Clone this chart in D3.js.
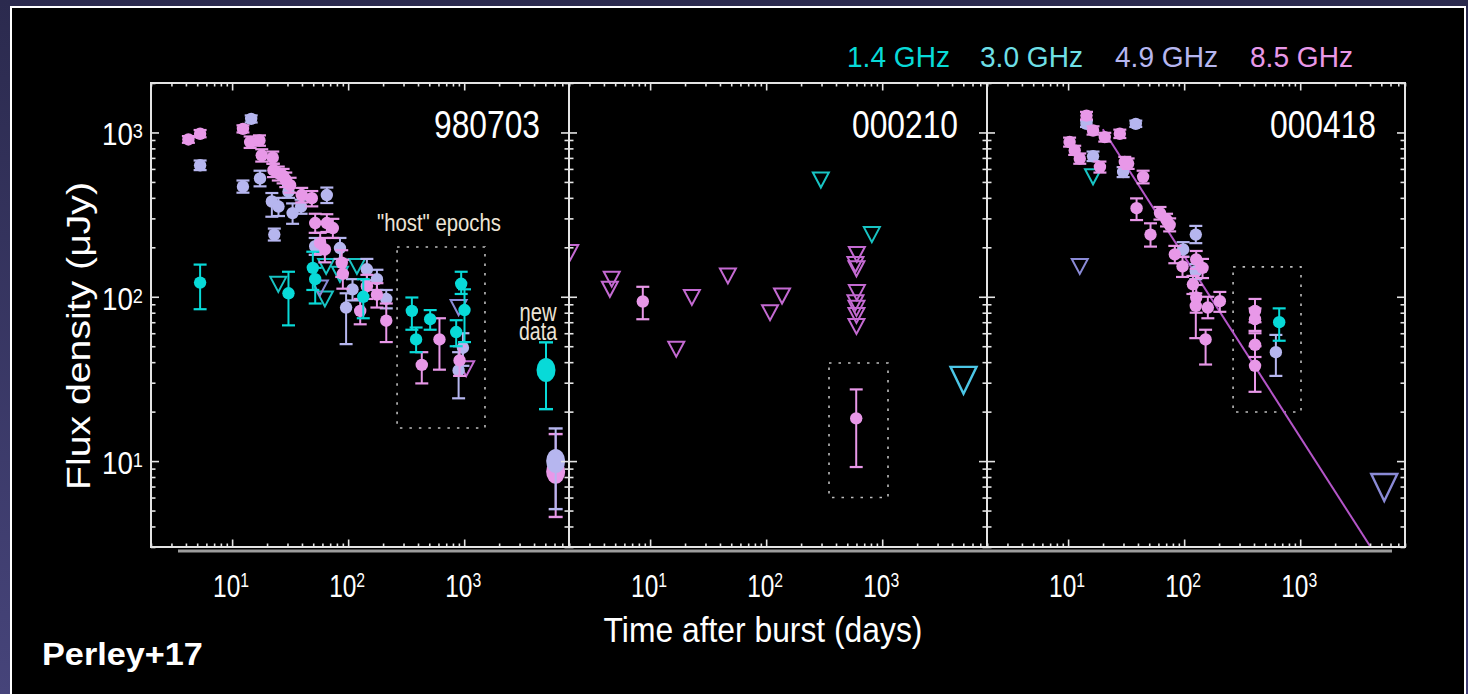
<!DOCTYPE html>
<html>
<head>
<meta charset="utf-8">
<script src="https://cdn.jsdelivr.net/npm/d3@7"></script>
<style>
  html, body { margin: 0; padding: 0; background: #2e2c52; overflow: hidden; }
  svg { display: block; }
  text { font-family: "Liberation Sans", Arial, Helvetica, sans-serif; }
</style>
</head>
<body>
<svg id="chart" width="1468" height="694"></svg>
<script>
// ---- bands (index used in the data rows below) ----
const bands = ["1.4 GHz", "3.0 GHz", "4.9 GHz", "8.5 GHz"];
const bandFill = ["#08dad8", "#6edfe6", "#b6b6ef", "#e898e8"];
const bandLimit = ["#18c4c4", "#4cc6e6", "#8a8ad6", "#c46ad2"];

const panelNames = ["980703", "000210", "000418"];
const decadeTicks = [10, 100, 1000];

// ---- GRB 980703: detections [band, days, flux µJy, low, high] ----
const det980703 = [
  [3, 4.2, 907, 865, 950], [3, 5.3, 982, 935, 1035], [3, 12.4, 1052, 1000, 1105],
  [3, 14.3, 874, 805, 945], [3, 17.2, 895, 830, 960], [3, 18.0, 726, 665, 790],
  [3, 22.4, 703, 645, 765], [3, 22.7, 589, 535, 645], [3, 25.0, 565, 510, 620],
  [3, 27.5, 545, 490, 600], [3, 29.0, 515, 465, 570], [3, 31.6, 478, 430, 530],
  [3, 39.8, 416, 375, 460], [3, 48.6, 398, 355, 440], [3, 52.0, 281, 245, 320],
  [3, 65.5, 281, 248, 318], [3, 73.8, 262, 228, 298], [3, 57.4, 212, 182, 245],
  [3, 63.0, 194, 162, 228], [3, 88.0, 161, 132, 192], [3, 90.0, 138, 112, 168],
  [3, 145, 116, 97, 136], [3, 177, 103, 86, 121], [3, 127, 82, 68, 97],
  [3, 213, 71.5, 53, 91], [3, 431, 38.5, 29.7, 46], [3, 612, 55, 36, 74],
  [3, 912, 41, 33, 50],
  [2, 5.3, 631, 590, 675], [2, 14.6, 1210, 1150, 1270], [2, 12.4, 468, 430, 510],
  [2, 17.4, 525, 470, 585], [2, 22.0, 380, 307, 428], [2, 25.1, 354, 310, 400],
  [2, 23.1, 239, 220, 260], [2, 33.2, 323, 278, 370], [2, 39.3, 354, 320, 390],
  [2, 30.6, 436, 400, 475], [2, 65.5, 416, 372, 462], [2, 52.0, 203, 180, 228],
  [2, 85.0, 198, 170, 228], [2, 145, 147, 126, 170], [2, 177, 128, 110, 146],
  [2, 109, 111, 95, 128], [2, 96, 86, 51.5, 105], [2, 213, 97, 85, 110],
  [2, 975, 49, 38, 60], [2, 895, 35.6, 24.1, 46],
  [0, 5.3, 122, 84, 157], [0, 30.6, 105, 67, 142], [0, 49.6, 150, 110, 188],
  [0, 52.0, 128, 91, 150], [0, 135, 100, 74, 128], [0, 354, 82, 63, 99],
  [0, 385, 55, 46, 65], [0, 509, 73, 63, 83], [0, 853, 61, 50, 72],
  [0, 942, 120, 104, 142], [0, 1006, 83, 53, 111]
];
// upper limits [band, days, flux µJy]
const lim980703 = [
  [0, 25, 119], [0, 64.6, 153], [0, 85, 137], [0, 119, 153], [0, 63, 97],
  [2, 57, 113], [2, 895, 86], [3, 1040, 36.5]
];
// late-time VLA epochs
const new980703 = [
  [3, 6140, 8.6, 4.57, 14.6], [2, 6140, 10.0, 5.1, 15.8], [0, 5070, 35.8, 20.7, 52.8]
];

// ---- GRB 000210 ----
const det000210 = [[3, 8.65, 93.6, 73, 115], [3, 597, 18.2, 9.2, 27.3]];
const lim000210 = [
  [3, 2.05, 186], [3, 4.67, 128], [3, 4.5, 111], [3, 22.9, 99], [3, 46.8, 134],
  [3, 137, 101], [3, 108, 80], [3, 16.8, 48], [3, 605, 181], [3, 588, 157],
  [3, 600, 148], [3, 605, 106], [3, 588, 92], [3, 600, 85], [3, 600, 77],
  [3, 600, 66], [0, 296, 513], [0, 814, 239]
];
const newLim000210 = [[1, 5020, 31]];

// ---- GRB 000418 ----
const det000418 = [
  [3, 14.4, 1267, 1200, 1335], [3, 16.4, 1028, 970, 1090], [3, 20.7, 937, 880, 995],
  [3, 27.9, 982, 925, 1040], [3, 10.3, 874, 820, 930], [3, 11.4, 778, 730, 830],
  [3, 12.6, 693, 645, 745], [3, 18.8, 617, 570, 665], [3, 30.8, 662, 615, 710],
  [3, 32.9, 647, 600, 695], [3, 44.3, 537, 490, 585], [3, 38.9, 346, 293, 397],
  [3, 61.9, 323, 295, 352], [3, 70.5, 294, 268, 320], [3, 75, 274, 250, 300],
  [3, 51.3, 239, 202, 280], [3, 83.1, 181, 160, 204], [3, 96.8, 153, 132, 175],
  [3, 127, 169, 148, 190], [3, 144, 150, 130, 170], [3, 119, 119, 104, 134],
  [3, 127, 99, 80, 118], [3, 126, 88, 56, 105], [3, 160, 86, 74, 100],
  [3, 203, 94, 81, 107], [3, 153, 55, 38.7, 63], [3, 408, 82, 70, 97],
  [3, 408, 73, 62, 85], [3, 408, 51, 43, 60], [3, 408, 38, 26.4, 50],
  [2, 14.4, 1128, 1080, 1180], [2, 38.3, 1128, 1080, 1180], [2, 16.4, 716, 670, 765],
  [2, 29.8, 575, 535, 615], [2, 126, 239, 212, 270], [2, 98, 194, 175, 215],
  [2, 126, 143, 128, 158], [2, 617, 46, 33, 58.6],
  [0, 659, 70, 54, 85]
];
const lim000418 = [[0, 16.4, 537], [2, 12.6, 153]];
const newLim000418 = [[2, 5300, 6.9]];
// afterglow power-law decay [days, flux]
const fit000418 = [[19.9, 1045], [4045, 3]];

// "host" epoch boxes [t0, t1, f0, f1]
const hostBoxes = [[264, 1510, 15.9, 201], [348, 1122, 6.0, 39.5], [264, 1016, 19.9, 152]];

const panelData = [
  { det: det980703, lim: lim980703, big: new980703, bigLim: [], fit: null },
  { det: det000210, lim: lim000210, big: [], bigLim: newLim000210, fit: null },
  { det: det000418, lim: lim000418, big: [], bigLim: newLim000418, fit: fit000418 }
];

// ---- layout ----
const W = 1468, H = 694;
const panelLeft = [151, 569, 987];
const panelW = 418;
const plotTop = 83, plotBottom = 547;
const frameColor = "#e4e4e4";

const svg = d3.select("#chart");
const defs = svg.append("defs");

const bg = defs.append("linearGradient").attr("id", "bg").attr("x1", 0).attr("y1", 0).attr("x2", 0).attr("y2", 1);
bg.append("stop").attr("offset", 0).attr("stop-color", "#2b2a4e");
bg.append("stop").attr("offset", 1).attr("stop-color", "#46447a");
svg.append("rect").attr("width", W).attr("height", H).attr("fill", "url(#bg)");
svg.append("rect").attr("x", 11).attr("y", 7).attr("width", 1454).attr("height", 720)
  .attr("fill", "#000").attr("stroke", "#ffffff").attr("stroke-width", 2);

const y = d3.scaleLog().domain([3, 2000]).range([plotBottom, plotTop]);

function minorValues(lo, hi) {
  const out = [];
  for (let d = 1; d <= 1000; d *= 10)
    for (let m = 1; m <= 9; m++) {
      const v = m * d;
      if (v >= lo && v <= hi && !decadeTicks.includes(v)) out.push(v);
    }
  return out;
}
const xMinor = minorValues(2, 8000);
const yMinor = minorValues(3, 2000);

// text squeezed/stretched to a given run length
function fitText(parent, str, x, yy, size, width, opts = {}) {
  const t = parent.append("text").attr("font-size", size).text(str)
    .attr("fill", opts.fill || "#fff")
    .attr("font-weight", opts.weight || "normal")
    .attr("text-anchor", opts.anchor || "start");
  const len = t.node().getComputedTextLength();
  const sx = width / len;
  t.attr("transform", `translate(${x},${yy}) rotate(${opts.rotate || 0}) scale(${sx},1)`);
  return t;
}
function powerLabel(parent, exp, x, yy, size, supSize, width, anchor, dy) {
  const t = parent.append("text").attr("font-size", size).attr("fill", "#fff").attr("text-anchor", anchor);
  t.append("tspan").text("10");
  t.append("tspan").attr("font-size", supSize).attr("dy", dy).text(exp);
  const len = t.node().getComputedTextLength();
  t.attr("transform", `translate(${x},${yy}) scale(${width / len},1)`);
}

function tri(w, h) {
  return `M${-w / 2},${-h / 2}L${w / 2},${-h / 2}L0,${h / 2}Z`;
}

// slide shadow line under the panels
svg.append("line").attr("x1", 178).attr("x2", 1392).attr("y1", 551).attr("y2", 551)
  .attr("stroke", "#9c9c9c").attr("stroke-width", 3);

panelNames.forEach((name, i) => {
  const left = panelLeft[i];
  const x = d3.scaleLog().domain([2, 8000]).range([left, left + panelW]);
  const g = svg.append("g");
  const pd = panelData[i];

  defs.append("clipPath").attr("id", "clip" + i).append("rect")
    .attr("x", left).attr("y", plotTop).attr("width", panelW).attr("height", plotBottom - plotTop);

  // host-epoch box
  const hb = hostBoxes[i];
  g.append("rect")
    .attr("x", x(hb[0])).attr("y", y(hb[3]))
    .attr("width", x(hb[1]) - x(hb[0])).attr("height", y(hb[2]) - y(hb[3]))
    .attr("fill", "none").attr("stroke", "#bdbdbd").attr("stroke-width", 1.6)
    .attr("stroke-dasharray", "2.5,7");

  const marks = g.append("g").attr("clip-path", `url(#clip${i})`);

  if (pd.fit) {
    marks.append("path")
      .attr("d", d3.line().x(d => x(d[0])).y(d => y(d[1]))(pd.fit))
      .attr("stroke", "#b455c8").attr("stroke-width", 2).attr("fill", "none");
  }

  // upper limits
  marks.selectAll(".lim").data(pd.lim).join("path")
    .attr("d", tri(16, 15))
    .attr("transform", d => `translate(${x(d[1])},${y(d[2])})`)
    .attr("fill", "none").attr("stroke", d => bandLimit[d[0]]).attr("stroke-width", 2);

  // detections: draw 4.9 GHz, then 8.5 GHz, then 1.4 GHz
  const order = [2, 3, 1, 0];
  const dets = pd.det.slice().sort((a, b) => order.indexOf(a[0]) - order.indexOf(b[0]));
  const eb = marks.selectAll(".det").data(dets).join("g")
    .attr("stroke", d => bandFill[d[0]]).attr("fill", d => bandFill[d[0]]);
  eb.append("line").attr("x1", d => x(d[1])).attr("x2", d => x(d[1]))
    .attr("y1", d => y(d[3])).attr("y2", d => y(d[4])).attr("stroke-width", 2);
  eb.append("line").attr("x1", d => x(d[1]) - 6.5).attr("x2", d => x(d[1]) + 6.5)
    .attr("y1", d => y(d[3])).attr("y2", d => y(d[3])).attr("stroke-width", 2.2);
  eb.append("line").attr("x1", d => x(d[1]) - 6.5).attr("x2", d => x(d[1]) + 6.5)
    .attr("y1", d => y(d[4])).attr("y2", d => y(d[4])).attr("stroke-width", 2.2);
  eb.append("circle").attr("cx", d => x(d[1])).attr("cy", d => y(d[2])).attr("r", 6.2).attr("stroke", "none");

  // late-time epochs, larger markers
  const nb = marks.selectAll(".big").data(pd.big).join("g")
    .attr("stroke", d => bandFill[d[0]]).attr("fill", d => bandFill[d[0]]);
  nb.append("line").attr("x1", d => x(d[1])).attr("x2", d => x(d[1]))
    .attr("y1", d => y(d[3])).attr("y2", d => y(d[4])).attr("stroke-width", 2);
  nb.append("line").attr("x1", d => x(d[1]) - 7).attr("x2", d => x(d[1]) + 7)
    .attr("y1", d => y(d[3])).attr("y2", d => y(d[3])).attr("stroke-width", 2.4);
  nb.append("line").attr("x1", d => x(d[1]) - 7).attr("x2", d => x(d[1]) + 7)
    .attr("y1", d => y(d[4])).attr("y2", d => y(d[4])).attr("stroke-width", 2.4);
  nb.append("ellipse").attr("cx", d => x(d[1])).attr("cy", d => y(d[2]))
    .attr("rx", 9.5).attr("ry", 12).attr("stroke", "none");

  marks.selectAll(".bigLim").data(pd.bigLim).join("path")
    .attr("d", tri(26, 27))
    .attr("transform", d => `translate(${x(d[1])},${y(d[2])})`)
    .attr("fill", "none").attr("stroke", d => bandLimit[d[0]]).attr("stroke-width", 2.4);

  // frame and inward ticks on all four sides
  g.append("rect").attr("x", left).attr("y", plotTop).attr("width", panelW)
    .attr("height", plotBottom - plotTop).attr("fill", "none")
    .attr("stroke", frameColor).attr("stroke-width", 2);

  const styleAxis = sel => {
    sel.select(".domain").remove();
    sel.selectAll(".tick line").attr("stroke", frameColor).attr("stroke-width", 1.6);
    sel.selectAll(".tick text").remove();
  };
  const axes = [
    [d3.axisBottom(x), `translate(0,${plotBottom})`, xMinor, -3.5, -7.5],
    [d3.axisTop(x), `translate(0,${plotTop})`, xMinor, -3.5, -7.5],
    [d3.axisLeft(y), `translate(${left},0)`, yMinor, -4.5, -8],
    [d3.axisRight(y), `translate(${left + panelW},0)`, yMinor, -4.5, -8]
  ];
  axes.forEach(([ax, tr, minor, sMin, sMaj]) => {
    g.append("g").attr("transform", tr)
      .call(ax.tickValues(minor).tickSize(sMin).tickFormat("")).call(styleAxis);
    g.append("g").attr("transform", tr)
      .call(ax.tickValues(decadeTicks).tickSize(sMaj).tickFormat("")).call(styleAxis);
  });

  // x tick labels
  decadeTicks.forEach((v, k) => {
    powerLabel(svg, String(k + 1), x(v) - 1, 597, 31, 20, 36, "middle", -10);
  });

  fitText(svg, name, left + panelW - 29, 138, 39.5, 106, { anchor: "end" });
});

// y tick labels
decadeTicks.forEach((v, k) => {
  powerLabel(svg, String(k + 1), 143, y(v) + 13, 32, 21, 41, "end", -7);
});

// legend
const legendX = [847, 980, 1115, 1250];
bands.forEach((b, i) => fitText(svg, b, legendX[i], 67, 30, 103, { fill: bandFill[i] }));

// annotations
fitText(svg, "\"host\" epochs", 377, 231, 24, 124, { fill: "#ece4d6" });
fitText(svg, "new", 538, 321, 26, 37, { fill: "#ece4d6", anchor: "middle" });
fitText(svg, "data", 538, 340, 26, 38, { fill: "#ece4d6", anchor: "middle" });

// axis titles
fitText(svg, "Flux density (\u03bcJy)", 90, 336, 34, 308, { anchor: "middle", rotate: -90 });
fitText(svg, "Time after burst (days)", 763, 642, 35, 319, { anchor: "middle" });
fitText(svg, "Perley+17", 42, 665, 31, 161, { weight: "bold" });
</script>
</body>
</html>
